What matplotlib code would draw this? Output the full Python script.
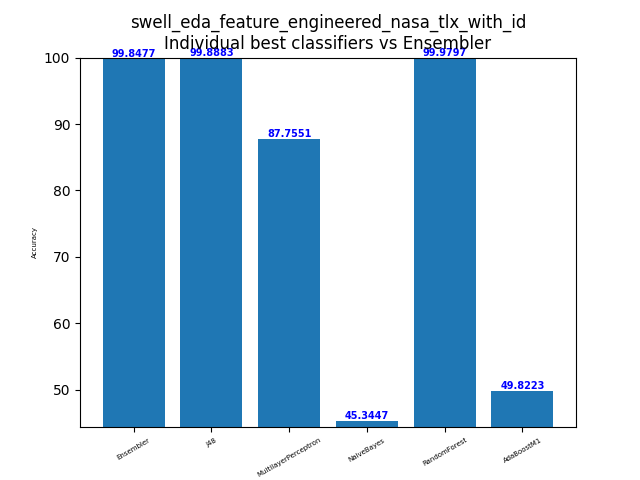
import matplotlib
matplotlib.use('Agg')
import matplotlib.pyplot as plt

classifiers = ["Ensembler", "J48", "MultilayerPerceptron", "NaiveBayes", "RandomForest", "AdaBoostM1"]
accuracy = [99.8477, 99.8883, 87.7551, 45.3447, 99.9797, 49.8223]

fig, ax = plt.subplots(figsize=(6.4, 4.8), dpi=100)
bars = ax.bar(classifiers, accuracy)
for b, v in zip(bars, accuracy):
    ax.text(b.get_x() + b.get_width() / 2, v, str(v), ha='center', va='bottom',
            color='blue', fontweight='bold', fontsize=7)
ax.set_ylim(min(accuracy) - 1, 100)
ax.set_ylabel("Accuracy", fontsize=5)
ax.set_title("swell_eda_feature_engineered_nasa_tlx_with_id\nIndividual best classifiers vs Ensembler")
plt.xticks(rotation=30, fontsize=5)
fig.savefig("out.png")
